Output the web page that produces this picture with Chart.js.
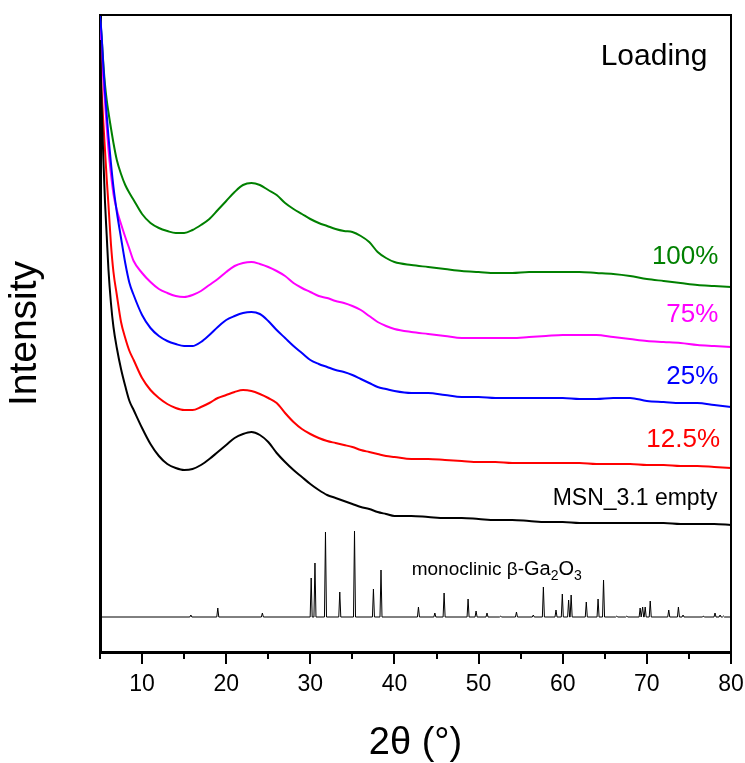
<!DOCTYPE html>
<html>
<head>
<meta charset="utf-8">
<title>XRD</title>
<script src="https://cdn.jsdelivr.net/npm/chart.js@4.4.1/dist/chart.umd.min.js"></script>
<style>
  html, body { margin: 0; padding: 0; background: #fff; }
  #wrap { width: 745px; height: 763px; }
</style>
</head>
<body>
<div id="wrap"><canvas id="xrdChart" width="745" height="763"></canvas></div>
<script>
// 2theta grid (degrees) shared by the measured patterns
const twoTheta = [5, 5.2, 5.4, 5.6, 5.8, 6, 6.3, 6.6, 7, 7.5, 8, 8.5, 9,
    10, 11, 12, 13, 14, 15, 16, 17, 18, 19, 20, 21, 22, 23, 24, 25, 26, 27, 28, 29, 30,
    31, 32, 33, 34, 35, 36, 37, 38, 39, 40,
    42, 44, 46, 48, 50, 52, 54, 56, 58, 60, 62, 64, 66, 68, 70, 72, 74, 76, 78, 80];

// stacked intensities (a.u., offset for display)
const load100 = [637, 614, 588, 567, 552, 540, 524, 509, 492, 478, 467, 459, 452,
    438, 429, 424, 421, 419, 419, 422, 427, 433, 442, 451, 460, 467, 469, 467, 462, 457, 449, 443, 438, 433,
    429, 426, 423, 421, 420, 416, 410, 400, 394, 390,
    387, 385, 383, 381, 380, 379, 379, 380, 380, 380, 380, 379, 378, 376, 373, 371, 369, 367, 366, 365];
const load75 = [634, 597, 571, 549, 525, 503, 478, 458, 442, 428, 415, 403, 391,
    379, 370, 363, 359, 356, 355, 357, 361, 367, 373, 380, 386, 389, 390, 388, 385, 381, 376, 369, 364, 360,
    356, 354, 351, 349, 346, 342, 336, 330, 326, 323,
    320, 318, 316, 314, 314, 314, 314, 315, 316, 317, 317, 317, 315, 313, 311, 310, 309, 307, 306, 305];
const load25 = [637, 616, 585, 559, 537, 516, 489, 465, 440, 414, 389, 369, 357,
    337, 324, 316, 311, 308, 306, 306, 310, 317, 325, 332, 336, 339, 340, 338, 331, 322, 314, 306, 299, 292,
    288, 285, 282, 280, 277, 273, 269, 265, 263, 261,
    259, 259, 257, 255, 255, 254, 254, 254, 254, 254, 253, 253, 254, 254, 251, 250, 249, 249, 247, 245];
const load12 = [597, 560, 529, 501, 473, 448, 408, 380, 357, 330, 314, 301, 292,
    274, 262, 254, 248, 244, 242, 242, 245, 249, 254, 257, 260, 262, 261, 258, 254, 249, 239, 230, 223, 218,
    214, 211, 209, 207, 205, 202, 200, 198, 196, 195,
    193, 193, 192, 191, 190, 190, 189, 189, 189, 189, 189, 188, 188, 188, 187, 187, 186, 186, 185, 184];
const emptyMSN = [612, 545, 493, 449, 416, 383, 349, 325, 304, 283, 266, 251, 242,
    224, 208, 196, 188, 184, 182, 183, 187, 193, 200, 207, 214, 218, 220, 217, 210, 199, 190, 182, 175, 168,
    162, 157, 154, 151, 148, 145, 143, 140, 138, 136,
    136, 135, 134, 134, 133, 132, 132, 131, 130, 130, 129, 129, 129, 129, 129, 129, 128, 128, 128, 127];

// reference reflections of monoclinic beta-Ga2O3
const refBase = 35;
const refPos = [15.8, 19.0, 24.3, 30.1, 30.55, 31.8, 33.5, 35.25, 37.5, 38.4,
    42.85, 44.8, 45.9, 48.75, 49.7, 51.0, 52.6, 54.5, 56.5, 57.7,
    59.2, 59.95, 60.7, 61.0, 62.8, 64.2, 64.85, 66.4, 67.6, 69.2,
    69.5, 69.8, 70.4, 72.6, 73.75, 74.3, 76.7, 78.1, 78.7, 79.1];
const refHeight = [37, 44, 39, 74, 89, 120, 60, 121, 63, 82,
    45, 39, 59, 53, 41, 39, 36, 40, 37, 65,
    42, 58, 52, 57, 50, 53, 72, 36, 36, 44,
    45, 45, 51, 42, 45, 37, 36, 39, 37, 36];

const xTicks = [10, 20, 30, 40, 50, 60, 70, 80];
const FONT = '"Liberation Sans", Arial, sans-serif';

function toPoints(ys) {
    return twoTheta.map((x, i) => ({ x: x, y: ys[i] }));
}

// narrow triangular sticks on a flat baseline
function refPoints() {
    const pts = [{ x: 5, y: refBase }];
    const hw = 0.12;
    refPos.forEach((p, i) => {
        pts.push({ x: p - hw, y: refBase });
        pts.push({ x: p, y: refHeight[i] });
        pts.push({ x: p + hw, y: refBase });
    });
    pts.push({ x: 80, y: refBase });
    return pts;
}

function curve(label, ys, color) {
    return {
        label: label,
        data: toPoints(ys),
        borderColor: color,
        borderWidth: 2,
        pointRadius: 0,
        showLine: true,
        cubicInterpolationMode: 'monotone'
    };
}

// frame, minor/major ticks and in-plot labels
const decorPlugin = {
    id: 'decor',
    afterDraw(chart) {
        const { ctx, chartArea: a, scales: { x, y } } = chart;
        ctx.save();
        ctx.strokeStyle = '#000';
        ctx.lineWidth = 2;
        ctx.beginPath();
        ctx.moveTo(a.left, a.top);
        ctx.lineTo(a.right, a.top);
        ctx.lineTo(a.right, a.bottom);
        ctx.stroke();

        for (let v = 5; v <= 80; v += 5) {
            const px = Math.round(x.getPixelForValue(v));
            const len = v % 10 === 0 ? 12 : 7;
            ctx.beginPath();
            ctx.moveTo(px, a.bottom);
            ctx.lineTo(px, a.bottom + len);
            ctx.stroke();
        }

        ctx.textBaseline = 'middle';
        ctx.textAlign = 'right';
        const put = (text, xv, yv, size, color) => {
            ctx.font = size + 'px ' + FONT;
            ctx.fillStyle = color;
            ctx.fillText(text, x.getPixelForValue(xv), y.getPixelForValue(yv));
        };
        put('Loading', 77.2, 595, 30, '#000');
        put('100%', 78.5, 395, 26, '#008000');
        put('75%', 78.5, 337, 26, '#ff00ff');
        put('25%', 78.5, 275, 26, '#0000ff');
        put('12.5%', 78.7, 212, 26, '#ff0000');
        put('MSN_3.1 empty', 78.4, 153.5, 23, '#000');

        // monoclinic β-Ga2O3 with subscripts
        ctx.textAlign = 'left';
        ctx.textBaseline = 'alphabetic';
        ctx.fillStyle = '#000';
        let cx = x.getPixelForValue(42.05);
        const by = y.getPixelForValue(77);
        const parts = [['monoclinic β-', 19, 0], ['Ga', 20, 0], ['2', 14, 5], ['O', 20, 0], ['3', 14, 5]];
        parts.forEach(([t, s, dy]) => {
            ctx.font = s + 'px ' + FONT;
            ctx.fillText(t, cx, by + dy);
            cx += ctx.measureText(t).width;
        });
        ctx.restore();
    }
};

const chart = new Chart(document.getElementById('xrdChart'), {
    type: 'scatter',
    data: {
        datasets: [
            curve('MSN_3.1 empty', emptyMSN, '#000000'),
            curve('12.5%', load12, '#ff0000'),
            curve('25%', load25, '#0000ff'),
            curve('75%', load75, '#ff00ff'),
            curve('100%', load100, '#008000'),
            {
                label: 'β-Ga2O3',
                data: refPoints(),
                borderColor: '#000',
                borderWidth: 1,
                pointRadius: 0,
                showLine: true,
                tension: 0
            }
        ]
    },
    plugins: [decorPlugin],
    options: {
        responsive: false,
        animation: false,
        devicePixelRatio: 1,
        layout: { padding: { top: 15, right: 14, bottom: 0, left: 0 } },
        plugins: { legend: { display: false }, tooltip: { enabled: false } },
        scales: {
            x: {
                type: 'linear',
                min: 5,
                max: 80,
                afterFit: s => { s.height = 111; s.paddingRight = 0; s.paddingLeft = 0; },
                afterBuildTicks: s => { s.ticks = xTicks.map(v => ({ value: v })); },
                grid: { display: false, drawTicks: false },
                border: { display: true, color: '#000', width: 3 },
                ticks: { color: '#000', padding: 19, maxRotation: 0, font: { family: FONT, size: 23 } },
                title: {
                    display: true,
                    text: '2θ (°)',
                    color: '#000',
                    padding: 0,
                    font: { family: FONT, size: 38, lineHeight: 1 }
                }
            },
            y: {
                type: 'linear',
                min: 0,
                max: 637,
                afterFit: s => { s.width = 100; s.paddingTop = 0; s.paddingBottom = 0; },
                grid: { display: false, drawTicks: false },
                border: { display: true, color: '#000', width: 3 },
                ticks: { display: false },
                title: {
                    display: true,
                    text: 'Intensity',
                    color: '#000',
                    padding: { top: 6, bottom: 0 },
                    font: { family: FONT, size: 39, lineHeight: 1 }
                }
            }
        }
    }
});
</script>
</body>
</html>
